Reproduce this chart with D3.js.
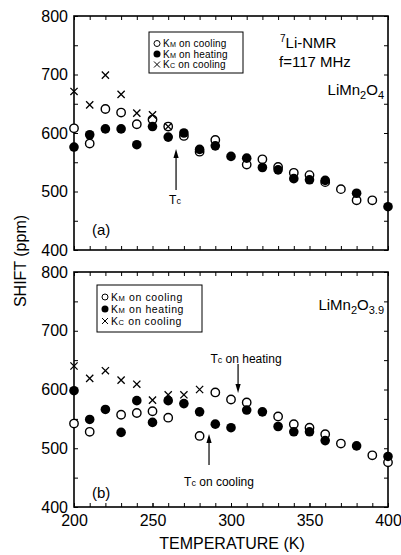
<!DOCTYPE html>
<html><head><meta charset="utf-8">
<script src="https://cdn.jsdelivr.net/npm/d3@7"></script>
<style>body{margin:0;background:#fff}svg{display:block}text{font-family:"Liberation Sans",Arial,Helvetica,sans-serif;fill:#000}</style>
</head><body><svg id="c" width="401" height="555"></svg>
<script>
const temps = [200,210,220,230,240,250,260,270,280,290,300,310,320,330,340,350,360,370,380,390,400];
// panel (a) LiMn2O4
const aKmCooling = [608,582,641,635,615,623,611,595,568,588,null,546,555,542,532,528,516,504,485,485,null];
const aKmHeating = [576,597,607,607,580,611,593,600,572,578,560,557,541,537,522,520,519,null,497,null,474];
const aKcCooling = [671,648,699,666,634,631,611];
// panel (b) LiMn2O3.9
const bKmCooling = [542,528,null,557,560,563,552,null,521,595,583,578,null,554,541,535,524,508,null,488,476];
const bKmHeating = [598,549,566,527,581,544,581,576,562,541,535,565,562,537,528,528,513,null,504,null,486];
const bKcCooling = [640,619,632,616,609,582,591,591,600];
const yTicks = [400,500,600,700,800];
const xTicks = [200,250,300,350,400];

const svg = d3.select("#c");
const x = d3.scaleLinear().domain([200,400]).range([74,388]);
const yA = d3.scaleLinear().domain([400,800]).range([250,16]);
const yB = d3.scaleLinear().domain([400,800]).range([507,272]);

function panel(y, open, filled, cross, showX){
  const g = svg.append("g");
  const minorX = d3.range(200,401,10), minorY = d3.range(400,801,50);
  g.append("g").attr("transform",`translate(0,${y.range()[0]})`)
    .call(d3.axisBottom(x).tickValues(minorX).tickSize(-4).tickFormat(""));
  g.append("g").attr("transform",`translate(0,${y.range()[1]})`)
    .call(d3.axisTop(x).tickValues(minorX).tickSize(-4).tickFormat(""));
  g.append("g").attr("transform",`translate(${x.range()[1]},0)`)
    .call(d3.axisRight(y).tickValues(minorY).tickSize(-4).tickFormat(""));
  const ya = g.append("g").attr("transform",`translate(${x.range()[0]},0)`)
    .call(d3.axisLeft(y).tickValues(minorY).tickSize(-4).tickPadding(6)
      .tickFormat(d => yTicks.includes(d) ? d : ""));
  ya.selectAll("text").style("font-size","16px").attr("font-family",null);
  if (showX){
    const xa = g.append("g").attr("transform",`translate(0,${y.range()[0]})`)
      .call(d3.axisBottom(x).tickValues(xTicks).tickSize(-4).tickPadding(8));
    xa.selectAll("text").style("font-size","16px").attr("font-family",null);
  }
  g.selectAll(".domain").remove();
  g.selectAll(".tick line").attr("stroke","#000").attr("stroke-width",1);
  g.append("rect").attr("x",x.range()[0]).attr("y",y.range()[1])
    .attr("width",x.range()[1]-x.range()[0]).attr("height",y.range()[0]-y.range()[1])
    .attr("fill","none").attr("stroke","#000").attr("stroke-width",1.6);

  const pts = arr => arr.map((v,i)=>({t:temps[i],v})).filter(d=>d.v!=null);
  g.selectAll(".op").data(pts(open)).join("circle").attr("class","op")
    .attr("cx",d=>x(d.t)).attr("cy",d=>y(d.v)).attr("r",4.2)
    .attr("fill","#fff").attr("stroke","#000").attr("stroke-width",1.4);
  g.selectAll(".fi").data(pts(filled)).join("circle").attr("class","fi")
    .attr("cx",d=>x(d.t)).attr("cy",d=>y(d.v)).attr("r",4.8).attr("fill","#000");
  const s = 3.6;
  g.selectAll(".cr").data(pts(cross)).join("path").attr("class","cr")
    .attr("d",d=>{const cx=x(d.t),cy=y(d.v);return `M${cx-s},${cy-s}L${cx+s},${cy+s}M${cx-s},${cy+s}L${cx+s},${cy-s}`;})
    .attr("stroke","#000").attr("stroke-width",1.3).attr("fill","none");
  return g;
}

const gA = panel(yA, aKmCooling, aKmHeating, aKcCooling, false);
const gB = panel(yB, bKmCooling, bKmHeating, bKcCooling, true);

function legend(g, bx, by, bw, bh, fs, ls, rows){
  g.append("rect").attr("x",bx).attr("y",by).attr("width",bw).attr("height",bh)
    .attr("fill","#fff").attr("stroke","#000").attr("stroke-width",1);
  const labels = [["K","M"," on cooling"],["K","M"," on heating"],["K","C"," on cooling"]];
  rows.forEach((ry,i)=>{
    const mx = bx+8;
    if(i===0) g.append("circle").attr("cx",mx).attr("cy",ry).attr("r",3).attr("fill","#fff").attr("stroke","#000").attr("stroke-width",1);
    if(i===1) g.append("circle").attr("cx",mx).attr("cy",ry).attr("r",3.5).attr("fill","#000");
    if(i===2) g.append("path").attr("d",`M${mx-3},${ry-3}L${mx+3},${ry+3}M${mx-3},${ry+3}L${mx+3},${ry-3}`).attr("stroke","#000").attr("stroke-width",1);
    const t = g.append("text").attr("x",bx+14).attr("y",ry).attr("dy","0.35em")
      .style("font-size",fs+"px").style("letter-spacing",ls+"px");
    t.append("tspan").text(labels[i][0]);
    t.append("tspan").style("font-size",(fs*0.72)+"px").text(labels[i][1]);
    t.append("tspan").text(labels[i][2]);
  });
}
legend(gA, 149, 32, 94, 41, 10, 0.2, [43.5,54,64.5]);
legend(gB, 97, 285, 105, 47, 10.5, 0.6, [297,309,321]);

// panel (a) annotations
const tA = gA.append("text").attr("x",280).attr("y",48).style("font-size","15px");
tA.append("tspan").attr("dy","-6").style("font-size","10px").text("7");
tA.append("tspan").attr("dy","6").text("Li-NMR");
gA.append("text").attr("x",279).attr("y",67).style("font-size","15px").text("f=117 MHz");
const fA = gA.append("text").attr("x",384).attr("y",95).attr("text-anchor","end").style("font-size","15px");
fA.append("tspan").text("LiMn");
fA.append("tspan").attr("dy","4").style("font-size","11px").text("2");
fA.append("tspan").attr("dy","-4").text("O");
fA.append("tspan").attr("dy","4").style("font-size","11px").text("4");
gA.append("text").attr("x",92).attr("y",235).style("font-size","15px").text("(a)");

const fB = gB.append("text").attr("x",384).attr("y",310).attr("text-anchor","end").style("font-size","15px");
fB.append("tspan").text("LiMn");
fB.append("tspan").attr("dy","4").style("font-size","11px").text("2");
fB.append("tspan").attr("dy","-4").text("O");
fB.append("tspan").attr("dy","4").style("font-size","11px").text("3.9");
gB.append("text").attr("x",92).attr("y",498).style("font-size","15px").text("(b)");

function arrow(g, t, y1, y2){
  const cx = x(t);
  g.append("line").attr("x1",cx).attr("x2",cx).attr("y1",y1).attr("y2",y2+ (y2<y1?6:-6)).attr("stroke","#000").attr("stroke-width",1.2);
  const d = y2<y1 ? 1 : -1;
  g.append("path").attr("d",`M${cx},${y2}L${cx-2.6},${y2+9*d}L${cx+2.6},${y2+9*d}Z`).attr("fill","#000");
}
function tc(g, xx, yy, rest, anchor){
  const t = g.append("text").attr("x",xx).attr("y",yy).attr("text-anchor",anchor||"start").style("font-size","12px");
  t.append("tspan").text("T");
  t.append("tspan").style("font-size","9px").text("c");
  if(rest) t.append("tspan").text(rest);
}
arrow(gA, 265, 190, 149);
tc(gA, 175, 204, "", "middle");
arrow(gB, 304.5, 364, 393);
tc(gB, 246, 363, " on heating", "middle");
arrow(gB, 286, 465, 434);
tc(gB, 219, 486, " on cooling", "middle");

// axis titles
svg.append("text").attr("transform","translate(20,261) rotate(-90)").attr("text-anchor","middle")
  .attr("dy","0.35em").style("font-size","16px").text("SHIFT (ppm)");
svg.append("text").attr("x",232).attr("y",549).attr("text-anchor","middle").style("font-size","16px").text("TEMPERATURE (K)");
</script></body></html>
